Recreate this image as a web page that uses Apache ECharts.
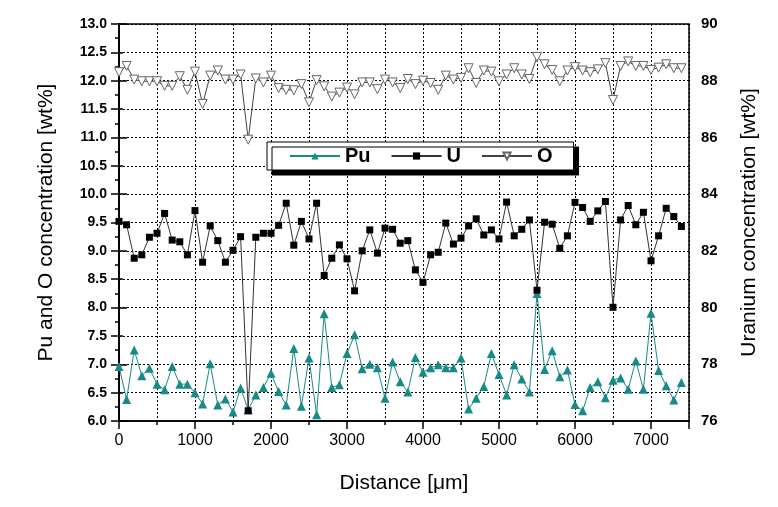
<!DOCTYPE html>
<html><head><meta charset="utf-8">
<script src="https://cdn.jsdelivr.net/npm/echarts@6/dist/echarts.min.js"></script>
<style>html,body{margin:0;padding:0;background:#fff}#c{width:778px;height:507px}</style>
</head><body><div id="c"></div>
<script>
var distance = [0,100,200,300,400,500,600,700,800,900,1000,1100,1200,1300,1400,1500,1600,1700,1800,1900,2000,2100,2200,2300,2400,2500,2600,2700,2800,2900,3000,3100,3200,3300,3400,3500,3600,3700,3800,3900,4000,4100,4200,4300,4400,4500,4600,4700,4800,4900,5000,5100,5200,5300,5400,5500,5600,5700,5800,5900,6000,6100,6200,6300,6400,6500,6600,6700,6800,6900,7000,7100,7200,7300,7400];
var pu = [6.96,6.38,7.25,6.80,6.93,6.65,6.55,6.96,6.65,6.65,6.50,6.30,7.01,6.28,6.39,6.16,6.58,6.20,6.46,6.59,6.84,6.52,6.28,7.28,6.26,7.11,6.11,7.89,6.59,6.64,7.19,7.52,6.92,7.00,6.94,6.40,7.04,6.69,6.51,7.12,6.86,6.94,6.99,6.94,6.94,7.11,6.21,6.40,6.61,7.19,6.82,6.46,6.99,6.74,6.51,8.25,6.91,7.24,6.78,6.90,6.29,6.18,6.59,6.69,6.41,6.72,6.76,6.56,7.06,6.56,7.90,6.89,6.62,6.37,6.68];
var uran = [83.04,82.92,81.74,81.86,82.48,82.62,83.32,82.38,82.32,81.86,83.42,81.6,82.88,82.36,81.6,82.02,82.5,76.36,82.48,82.62,82.62,82.9,83.68,82.2,83.04,82.42,83.68,81.13,81.74,82.21,81.72,80.59,82.0,82.74,81.92,82.8,82.76,82.27,82.36,81.33,80.89,81.86,81.95,82.98,82.24,82.45,82.88,83.13,82.56,82.74,82.42,83.72,82.53,82.76,83.09,80.61,83.01,82.94,82.09,82.53,83.71,83.53,83.04,83.41,83.74,80.01,83.09,83.6,82.92,83.36,81.65,82.53,83.5,83.21,82.86];
var oxy = [12.15,12.26,12.02,11.99,11.99,11.99,11.91,11.91,12.08,11.84,12.16,11.59,12.09,12.18,12.02,12.02,12.11,10.96,12.04,11.97,12.09,11.87,11.84,11.83,11.94,11.62,12.01,11.9,11.72,11.79,11.88,11.76,11.97,11.97,11.85,12.02,11.97,11.87,12.03,11.94,12.0,11.96,11.84,12.09,12.02,12.05,12.22,11.96,12.18,12.16,11.99,12.11,12.22,12.11,12.03,12.42,12.29,12.19,11.99,12.18,12.24,12.18,12.15,12.2,12.31,11.66,12.26,12.34,12.26,12.26,12.19,12.23,12.29,12.22,12.22];
var seriesNames = ['Pu','U','O'];

function pairs(ys){ return distance.map(function(d,i){ return [d, ys[i]]; }); }
var FONT = 'Arial, "Liberation Sans", sans-serif';
var dotted = {color:'#000', width:1, type:[2,2]};

var chart = echarts.init(document.getElementById('c'), null, {renderer:'canvas'});
chart.setOption({
  animation:false,
  backgroundColor:'#fff',
  textStyle:{fontFamily:FONT},
  grid:{left:119, right:89, top:24, bottom:86, show:true, borderColor:'#000', borderWidth:1.5, backgroundColor:'transparent'},
  legend:{
    left:267, top:142, orient:'horizontal',
    data:seriesNames,
    itemWidth:50, itemHeight:9, itemGap:20,
    padding:[4,21,4,22],
    backgroundColor:'#fff', borderColor:'#000', borderWidth:1,
    shadowColor:'#000', shadowBlur:0, shadowOffsetX:5, shadowOffsetY:5,
    textStyle:{fontFamily:FONT, fontSize:20, fontWeight:'bold', color:'#000'}
  },
  xAxis:[{
    type:'value', min:0, max:7500, interval:500, position:'bottom',
    name:'Distance [\u03bcm]', nameLocation:'middle', nameGap:52,
    nameTextStyle:{fontFamily:FONT, fontSize:21, color:'#000'},
    axisLine:{lineStyle:{color:'#000', width:1.5}},
    axisTick:{inside:false, length:4, lineStyle:{color:'#000', width:1.5}},
    axisLabel:{fontFamily:FONT, fontSize:16, color:'#000', margin:12,
      formatter:function(v){ return (v % 1000 === 0 && v <= 7000) ? String(v) : ''; }},
    splitLine:{show:true, lineStyle:dotted}
  },{
    type:'value', min:0, max:7500, interval:1000, position:'bottom',
    axisLine:{show:false},
    axisTick:{inside:false, length:8, lineStyle:{color:'#000', width:1.5}},
    axisLabel:{show:false}, splitLine:{show:false}
  }],
  yAxis:[{
    type:'value', min:6, max:13, interval:0.5, position:'left',
    name:'Pu and O concentration [wt%]', nameLocation:'middle', nameGap:62,
    nameTextStyle:{fontFamily:FONT, fontSize:21, color:'#000'},
    axisLine:{show:true, lineStyle:{color:'#000', width:1.5}},
    axisTick:{inside:false, length:8, lineStyle:{color:'#000', width:1.5}},
    minorTick:{show:true, splitNumber:2, length:4, lineStyle:{color:'#000', width:1.5}},
    axisLabel:{fontFamily:FONT, fontSize:14, fontWeight:'bold', color:'#000', margin:12,
      formatter:function(v){ return v.toFixed(1); }},
    splitLine:{show:true, lineStyle:dotted}
  },{
    type:'value', min:76, max:90, interval:2, position:'right',
    name:'Uranium concentration [wt%]', nameLocation:'middle', nameGap:50,
    nameTextStyle:{fontFamily:FONT, fontSize:21, color:'#000'},
    axisLine:{show:true, lineStyle:{color:'#000', width:1.5}},
    axisTick:{inside:false, length:8, lineStyle:{color:'#000', width:1.5}},
    minorTick:{show:true, splitNumber:2, length:4, lineStyle:{color:'#000', width:1.5}},
    axisLabel:{fontFamily:FONT, fontSize:15, fontWeight:'bold', color:'#000', margin:12},
    splitLine:{show:false}
  }],
  series:[{
    name:'Pu', type:'line', xAxisIndex:0, yAxisIndex:0, data:pairs(pu),
    symbol:'triangle', symbolSize:9,
    itemStyle:{color:'#168a86'},
    lineStyle:{color:'#168a86', width:1}, z:2
  },{
    name:'U', type:'line', xAxisIndex:0, yAxisIndex:1, data:pairs(uran),
    symbol:'rect', symbolSize:7,
    itemStyle:{color:'#000'},
    lineStyle:{color:'#333', width:1}, z:3
  },{
    name:'O', type:'line', xAxisIndex:0, yAxisIndex:0, data:pairs(oxy),
    symbol:'triangle', symbolRotate:180, symbolSize:9,
    itemStyle:{color:'#fff', borderColor:'#666', borderWidth:1},
    lineStyle:{color:'#444', width:1}, z:2
  }]
});
</script></body></html>
